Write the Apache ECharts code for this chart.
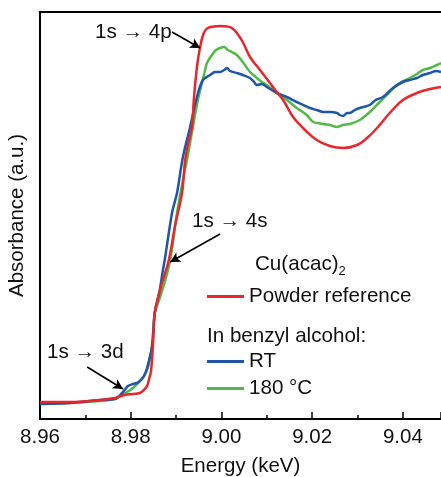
<!DOCTYPE html>
<html><head><meta charset="utf-8">
<script src="https://cdn.jsdelivr.net/npm/echarts@6/dist/echarts.min.js"></script>
<style>html,body{margin:0;padding:0;background:#fff}#c{width:441px;height:477px}</style>
</head><body><div id="c"></div>
<script>
// Energy (keV) and normalized absorbance
const redE = [8.9600,8.9666,8.9732,8.9765,8.9787,8.9805,8.9820,8.9831,8.9836,8.9840,8.9845,8.9849,8.9853,8.9860,8.9869,8.9884,8.9898,8.9913,8.9920,8.9926,8.9935,8.9939,8.9946,8.9953,8.9961,8.9970,8.9984,8.9997,9.0012,9.0023,9.0034,9.0047,9.0063,9.0085,9.0107,9.0122,9.0136,9.0158,9.0180,9.0210,9.0239,9.0268,9.0299,9.0321,9.0343,9.0371,9.0400,9.0431,9.0460,9.0484];
const redV = [0.004,0.004,0.012,0.020,0.032,0.036,0.040,0.056,0.068,0.092,0.132,0.232,0.360,0.420,0.480,0.572,0.712,0.840,0.972,1.032,1.104,1.212,1.344,1.424,1.480,1.500,1.506,1.508,1.506,1.500,1.480,1.444,1.384,1.332,1.280,1.244,1.212,1.144,1.100,1.052,1.028,1.020,1.032,1.060,1.100,1.160,1.212,1.240,1.256,1.264];

const blueE = [8.9600,8.9666,8.9732,8.9765,8.9783,8.9794,8.9805,8.9814,8.9820,8.9829,8.9836,8.9842,8.9847,8.9853,8.9864,8.9871,8.9875,8.9891,8.9902,8.9915,8.9931,8.9946,8.9959,8.9975,8.9986,8.9997,9.0006,9.0012,9.0019,9.0034,9.0047,9.0063,9.0072,9.0078,9.0089,9.0100,9.0111,9.0122,9.0144,9.0166,9.0195,9.0210,9.0224,9.0239,9.0255,9.0261,9.0268,9.0277,9.0283,9.0294,9.0305,9.0327,9.0340,9.0356,9.0378,9.0400,9.0415,9.0431,9.0444,9.0460,9.0473,9.0484];
const blueV = [-0.004,0.000,0.012,0.016,0.044,0.068,0.076,0.080,0.088,0.108,0.140,0.184,0.224,0.360,0.452,0.532,0.572,0.760,0.840,0.984,1.104,1.224,1.292,1.312,1.324,1.324,1.332,1.340,1.328,1.320,1.312,1.300,1.284,1.272,1.276,1.264,1.252,1.240,1.224,1.204,1.180,1.172,1.164,1.164,1.160,1.152,1.148,1.160,1.160,1.172,1.180,1.192,1.212,1.224,1.260,1.284,1.292,1.300,1.312,1.320,1.328,1.324];

const greenE = [8.9600,8.9666,8.9732,8.9765,8.9776,8.9792,8.9805,8.9816,8.9827,8.9836,8.9842,8.9849,8.9853,8.9864,8.9875,8.9887,8.9902,8.9915,8.9924,8.9937,8.9948,8.9957,8.9964,8.9968,8.9979,8.9988,8.9997,9.0006,9.0014,9.0023,9.0034,9.0047,9.0063,9.0078,9.0089,9.0100,9.0122,9.0144,9.0166,9.0188,9.0202,9.0224,9.0239,9.0255,9.0268,9.0283,9.0305,9.0327,9.0349,9.0371,9.0393,9.0415,9.0431,9.0444,9.0460,9.0475,9.0484];
const greenV = [-0.004,0.000,0.008,0.016,0.028,0.044,0.060,0.080,0.100,0.132,0.172,0.264,0.360,0.420,0.484,0.572,0.760,0.892,0.972,1.104,1.212,1.280,1.332,1.360,1.392,1.412,1.420,1.424,1.412,1.404,1.392,1.364,1.324,1.300,1.284,1.272,1.240,1.212,1.180,1.152,1.124,1.116,1.112,1.104,1.112,1.116,1.132,1.164,1.204,1.244,1.280,1.300,1.316,1.332,1.340,1.352,1.360];

const seriesNames = ['Powder reference','RT','180 °C'];
const xTickLabels = ['8.96','8.98','9.00','9.02','9.04'];

// annotation arrows in data coordinates: [fromE, fromV, toE, toV]
const arrow4p = [8.9891, 1.484, 8.9953, 1.420];
const arrow4s = [8.9997, 0.676, 8.9887, 0.564];
const arrow3d = [8.9704, 0.144, 8.9783, 0.056];

const zip = (a, b) => a.map((v, i) => [v, b[i]]);
const FONT = 'Liberation Sans, Arial, sans-serif';
const RED = '#e8262b', BLUE = '#1f55aa', GREEN = '#52b848';
const TXT = '20.6px ' + FONT;

const chart = echarts.init(document.getElementById('c'), null, {renderer: 'canvas'});

function arrowLine(a) {
  return [{coord: [a[0], a[1]], symbol: 'none'}, {coord: [a[2], a[3]], symbol: 'arrow'}];
}

chart.setOption({
  animation: false,
  backgroundColor: '#fff',
  grid: {left: 40, top: 12, right: 0, bottom: 58, containLabel: false, outerBoundsMode: 'none'},
  xAxis: [{
    type: 'value', min: 8.96, max: 9.0484, interval: 0.02,
    name: 'Energy (keV)', nameLocation: 'middle', nameGap: 37,
    nameTextStyle: {fontFamily: FONT, fontSize: 20.5, color: '#111'},
    axisLine: {show: true, onZero: false, lineStyle: {color: '#000', width: 2}},
    axisTick: {show: true, inside: true, length: 7, lineStyle: {color: '#000', width: 1.5}},
    minorTick: {show: true, splitNumber: 2, length: 4, lineStyle: {color: '#000', width: 1.5}},
    splitLine: {show: false},
    axisLabel: {
      fontFamily: FONT, fontSize: 20.5, color: '#111', margin: 8, showMaxLabel: false,
      formatter: v => { const s = v.toFixed(2); return xTickLabels.includes(s) ? s : ''; }
    }
  }, {
    type: 'value', position: 'top', min: 8.96, max: 9.0484,
    axisLine: {show: true, onZero: false, lineStyle: {color: '#000', width: 2}},
    axisTick: {show: false}, axisLabel: {show: false}, splitLine: {show: false}
  }],
  yAxis: {
    type: 'value', min: -0.064, max: 1.564,
    name: 'Absorbance (a.u.)', nameLocation: 'middle', nameGap: 12,
    nameTextStyle: {fontFamily: FONT, fontSize: 20.5, color: '#111'},
    axisLine: {show: true, onZero: false, lineStyle: {color: '#000', width: 2}},
    axisTick: {show: false}, axisLabel: {show: false}, splitLine: {show: false}
  },
  legend: [
    {data: [seriesNames[0]], left: 207, top: 286},
    {data: [seriesNames[1]], left: 207, top: 351},
    {data: [seriesNames[2]], left: 207, top: 378}
  ].map(l => Object.assign(l, {
    orient: 'vertical', padding: 0, icon: 'rect', itemWidth: 37, itemHeight: 3,
    textStyle: {fontFamily: FONT, fontSize: 20.6, color: '#111'}
  })),
  series: [
    {name: seriesNames[2], type: 'line', data: zip(greenE, greenV), showSymbol: false, smooth: 0.3,
     lineStyle: {color: GREEN, width: 2.5}, itemStyle: {color: GREEN}, z: 2},
    {name: seriesNames[1], type: 'line', data: zip(blueE, blueV), showSymbol: false, smooth: 0.3,
     lineStyle: {color: BLUE, width: 2.5}, itemStyle: {color: BLUE}, z: 3},
    {name: seriesNames[0], type: 'line', data: zip(redE, redV), showSymbol: false, smooth: 0.4,
     lineStyle: {color: RED, width: 2.5}, itemStyle: {color: RED}, z: 4,
     markLine: {
       silent: true, symbolSize: [8, 10], animation: false,
       lineStyle: {color: '#000', width: 1.6, type: 'solid'},
       label: {show: false},
       data: [arrowLine(arrow4p), arrowLine(arrow4s), arrowLine(arrow3d)]
     }}
  ],
  graphic: [
    {type: 'text', left: 95, top: 22, style: {text: '1s \u2192 4p', font: TXT, fill: '#111'}},
    {type: 'text', left: 192, top: 211, style: {text: '1s \u2192 4s', font: TXT, fill: '#111'}},
    {type: 'text', left: 47, top: 342, style: {text: '1s \u2192 3d', font: TXT, fill: '#111'}},
    {type: 'text', left: 255, top: 251, style: {
      text: '{a|Cu(acac)}{b|2}',
      rich: {a: {fontFamily: FONT, fontSize: 20.6, fill: '#111', lineHeight: 24},
             b: {fontFamily: FONT, fontSize: 13, fill: '#111', lineHeight: 24, padding: [14, 0, 0, 0]}}
    }},
    {type: 'text', left: 207, top: 326, style: {text: 'In benzyl alcohol:', font: TXT, fill: '#111'}}
  ]
});
</script></body></html>
